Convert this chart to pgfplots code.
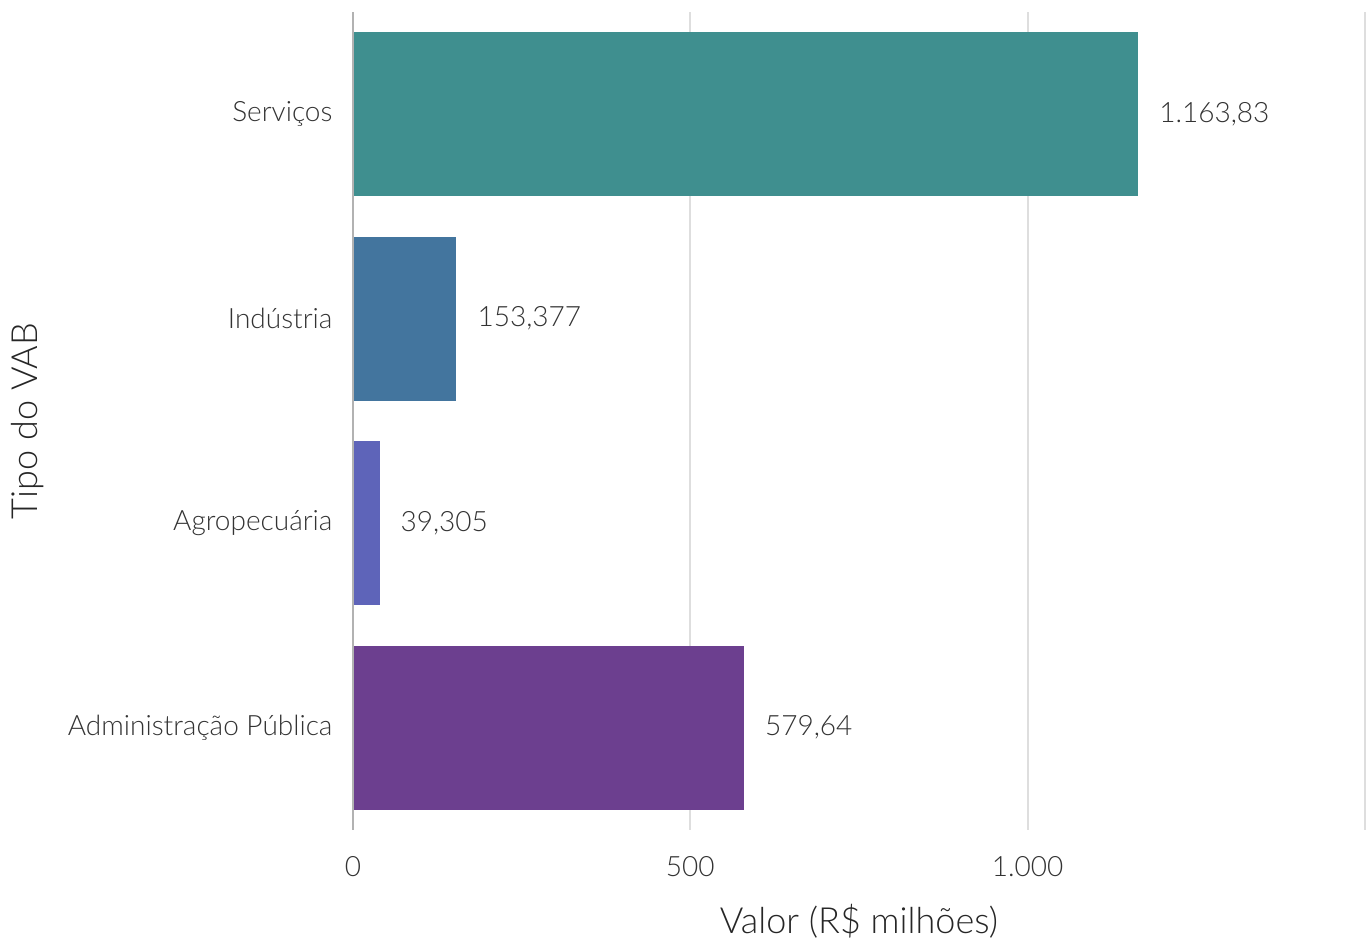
\documentclass[border=0pt]{standalone}
\usepackage{pgfplots}
\pgfplotsset{compat=1.18}
\usepackage{fontspec}
\setmainfont{Lato}[UprightFont={* Light}]
\definecolor{txt}{HTML}{333333}
\definecolor{cServ}{HTML}{3F8F8F}
\definecolor{cInd}{HTML}{43759E}
\definecolor{cAgr}{HTML}{5E64B9}
\definecolor{cAdm}{HTML}{6C3F8F}
\begin{document}
\begin{tikzpicture}
\begin{axis}[
  name=ax,
  scale only axis,
  width=506pt, height=409pt,
  xmin=0, xmax=1500,
  ymin=-0.5, ymax=3.5,
  xbar, bar width=0.8, bar shift=0pt,
  axis line style={draw=none},
  tick style={draw=none},
  xtick={0,500,1000,1500},
  xticklabels={0,500,{1.000},{}},
  ytick={0,1,2,3},
  yticklabels={Administração Pública,Agropecuária,Indústria,Serviços},
  xmajorgrids,
  major grid style={color=black!13, line width=1pt},
  /pgf/number format/assume math mode=true,
  ticklabel style={font=\fontsize{14}{16}\selectfont, text=txt},
  yticklabel style={xshift=-2.5pt},
  xticklabel style={yshift=-9.5pt},
  xlabel={Valor (R\$ milhões)},
  ylabel={Tipo do VAB},
  label style={font=\fontsize{18}{21}\selectfont, text=black!85},
  xlabel style={at={(axis description cs:0.5,0)}, anchor=center, yshift=-45.5pt},
  ylabel style={at={(axis description cs:0,0.5)}, anchor=center, rotate=0, yshift=162.5pt},
  point meta=explicit symbolic,
  nodes near coords,
  nodes near coords style={anchor=west, xshift=7pt, font=\fontsize{14}{16}\selectfont, text=txt},
  clip=false,
]
\addplot[fill=cAdm, draw=none] coordinates {(579.64,0) [579,64]};
\addplot[fill=cAgr, draw=none] coordinates {(39.305,1) [39,305]};
\addplot[fill=cInd, draw=none] coordinates {(153.377,2) [153,377]};
\addplot[fill=cServ, draw=none] coordinates {(1163.83,3) [1.163,83]};
\draw[black!30, line width=1pt] (axis cs:0,-0.5) -- (axis cs:0,3.5);
\end{axis}
\pgfresetboundingbox
\path[use as bounding box] ([xshift=-176.5pt,yshift=-55.5pt]ax.south west) rectangle ([xshift=3.5pt,yshift=6pt]ax.north east);
\end{tikzpicture}
\end{document}
